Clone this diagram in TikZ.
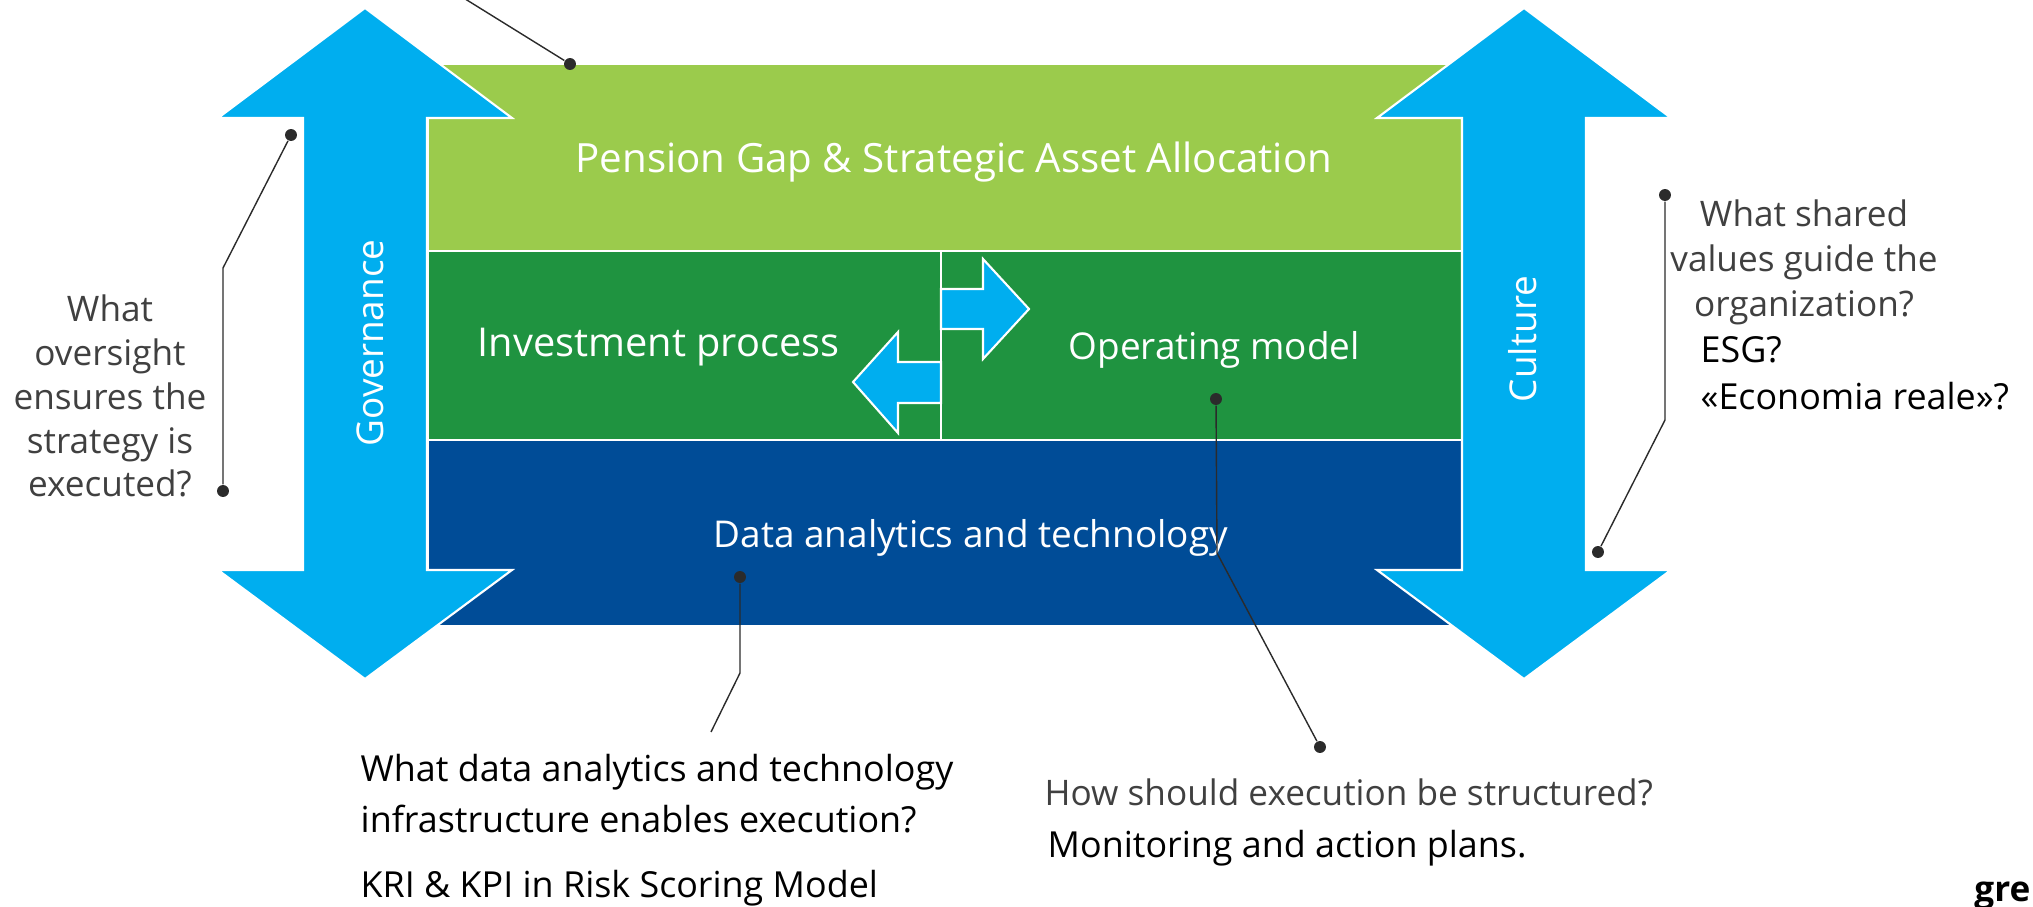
\documentclass[tikz,border=0pt]{standalone}
\usepackage{fontspec}
\setmainfont{Open Sans}
\definecolor{lightgreen}{HTML}{9BCB4C}
\definecolor{darkgreen}{HTML}{1F9340}
\definecolor{navy}{HTML}{004C97}
\definecolor{sky}{HTML}{00AEEF}
\definecolor{qgray}{HTML}{404040}
\definecolor{leadcol}{HTML}{2B2B2B}

\begin{document}
\begin{tikzpicture}[x=0.01cm,y=-0.01cm,
    band/.style={draw=white,line width=0.6pt},
    bigarrow/.style={fill=sky,draw=white,line width=0.6pt},
    bandtext/.style={text=white,inner sep=0,anchor=base west,font=\fontsize{11.3}{13}\selectfont},
    boxtext/.style={text=white,inner sep=0,anchor=base west,font=\fontsize{10.5}{12}\selectfont},
    question/.style={text=qgray,inner sep=0,anchor=base,font=\fontsize{10}{12}\selectfont},
    answer/.style={text=black,inner sep=0,anchor=base west,font=\fontsize{10.2}{12}\selectfont},
    dot/.style={circle,fill=leadcol,inner sep=0,minimum size=3.4pt},
    leader/.style={draw=leadcol,line width=0.4pt}]
            \useasboundingbox (0,0) rectangle (2033,907);
            % draw the three bands
            \draw[band,fill=lightgreen] (428,64) rectangle (1462,251);
            \draw[band,fill=darkgreen] (428,251) rectangle (1462,440);
            \draw[band,fill=navy] (428,440) rectangle (1462,626);
            \draw[band] (941,251) -- (941,440);
            % draw the two double arrows
            \foreach \cx in {365,1524}
                \draw[bigarrow] (\cx,8) -- (\cx+147,118) -- (\cx+62,118) -- (\cx+62,570)
                    -- (\cx+147,570) -- (\cx,679) -- (\cx-147,570) -- (\cx-62,570)
                    -- (\cx-62,118) -- (\cx-147,118) -- cycle;
            % small arrows between the two halves
            \draw[bigarrow] (941,289) -- (983,289) -- (983,259) -- (1029,309)
                -- (983,359) -- (983,329) -- (941,329) -- cycle;
            \draw[bigarrow] (941,362) -- (898,362) -- (898,332) -- (853,382)
                -- (898,433) -- (898,403) -- (941,403) -- cycle;
            % texts in the bands
            \node[bandtext,font=\fontsize{11.45}{13}\selectfont] (pension) at (575,173) {Pension Gap \& Strategic Asset Allocation};
            \node[bandtext] (invest) at (477,357) {Investment process};
            \node[boxtext] (opmodel) at (1068,360) {Operating model};
            \node[boxtext] (data) at (713,548) {Data analytics and technology};
            \node[boxtext,rotate=90,anchor=base] (gov) at (383,343) {Governance};
            \node[boxtext,rotate=90,anchor=base] (cult) at (1536,339) {Culture};
            % questions round the picture
            \foreach \t [count=\i] in {What,oversight,ensures the,strategy is,executed?}
                \node[question] (govq\i) at (110,{322+43.7*(\i-1)}) {\t};
            \foreach \t [count=\i] in {What shared,values guide the,organization?}
                \node[question] (cultq\i) at (1804,{227+45*(\i-1)}) {\t};
            \node[answer] (esg) at (1700,363) {ESG?};
            \node[answer] (econ) at (1700,410) {«Economia reale»?};
            \node[answer] (dataq1) at (360,782) {What data analytics and technology};
            \node[answer] (dataq2) at (360,833) {infrastructure enables execution?};
            \node[answer] (kri) at (360,897) {KRI \& KPI in Risk Scoring Model};
            \node[question,anchor=base west] (opq) at (1044,805) {How should execution be structured?};
            \node[answer] (monitor) at (1047,857) {Monitoring and action plans.};
            \node[text=black,inner sep=0,anchor=base east,font=\bfseries\fontsize{10}{12}\selectfont] (logo) at (2031,902) {gre};
            % leader lines with their dots
            \node[dot] (pdot) at (570,64) {};
            \coordinate (pend) at (462,-3);
            \draw[leader] (pdot) -- (pend);
            \node[dot] (gtop) at (291,135) {};
            \coordinate (gbend) at (223,268);
            \node[dot] (gbot) at (223,491) {};
            \draw[leader] (gtop) -- (gbend) -- (gbot);
            \node[dot] (ctop) at (1665,195) {};
            \coordinate (cbend) at (1665,420);
            \node[dot] (cbot) at (1598,552) {};
            \draw[leader] (ctop) -- (cbend) -- (cbot);
            \node[dot] (ddot) at (740,577) {};
            \coordinate (dbend) at (740,673);
            \coordinate (dend) at (711,732);
            \draw[leader] (ddot) -- (dbend) -- (dend);
            \node[dot] (otop) at (1216,399) {};
            \coordinate (obend) at (1217,553);
            \node[dot] (obot) at (1320,747) {};
            \draw[leader] (otop) -- (obend) -- (obot);
        \end{tikzpicture}
\end{document}
